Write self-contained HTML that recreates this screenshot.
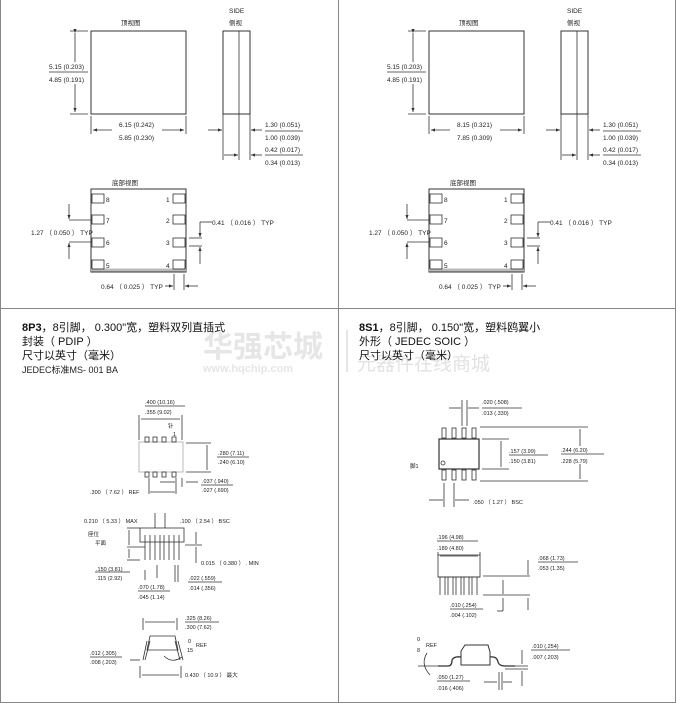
<!DOCTYPE html>
<html><head><meta charset="utf-8"><style>
html,body{margin:0;padding:0;background:#fff}
svg{display:block}
text{font-family:"Liberation Sans","Noto Sans CJK SC",sans-serif;fill:#222}
.t{font-size:6.5px}
.s{font-size:5.5px}
.h{font-size:11px;fill:#111}
</style></head><body>
<svg width="676" height="703" viewBox="0 0 676 703" xmlns="http://www.w3.org/2000/svg">
<defs>
<marker id="a" markerWidth="6" markerHeight="6" refX="5" refY="3" orient="auto"><path d="M0,1 L5,3 L0,5 z" fill="#333"/></marker>
<g id="top" stroke="#333" stroke-width="0.8" fill="none">
 <rect x="91" y="31" width="95" height="83" stroke-width="1"/>
 <rect x="223" y="31" width="27" height="83" stroke-width="1"/>
 <line x1="239" y1="31" x2="239" y2="114"/>
 <line x1="70" y1="31" x2="88" y2="31"/><line x1="70" y1="114" x2="88" y2="114"/>
 <line x1="75" y1="33" x2="75" y2="62" marker-start="url(#a)"/>
 <line x1="75" y1="84" x2="75" y2="112" marker-end="url(#a)"/>
 <line x1="49" y1="72" x2="88" y2="72"/>
 <line x1="91" y1="116" x2="91" y2="134"/><line x1="186" y1="116" x2="186" y2="134"/>
 <line x1="112" y1="130" x2="93" y2="130" marker-end="url(#a)"/>
 <line x1="162" y1="130" x2="184" y2="130" marker-end="url(#a)"/>
 <line x1="223" y1="114" x2="223" y2="160"/><line x1="239" y1="114" x2="239" y2="160"/><line x1="250" y1="114" x2="250" y2="160"/>
 <line x1="208" y1="130" x2="222" y2="130" marker-end="url(#a)"/>
 <line x1="262" y1="130" x2="251" y2="130" marker-end="url(#a)"/>
 <line x1="224" y1="155" x2="238" y2="155" marker-end="url(#a)"/>
 <line x1="262" y1="155" x2="251" y2="155" marker-end="url(#a)"/>
 <line x1="265" y1="131" x2="303" y2="131"/><line x1="265" y1="155" x2="303" y2="155"/>
 <rect x="91" y="189" width="95" height="83" stroke-width="1"/>
 <line x1="91" y1="270" x2="186" y2="270" stroke="#bbb" stroke-width="3"/>
 <rect x="92" y="194" width="12" height="9"/><rect x="92" y="215" width="12" height="9"/><rect x="92" y="238" width="12" height="9"/><rect x="92" y="260" width="12" height="9"/>
 <rect x="173" y="194" width="12" height="9"/><rect x="173" y="215" width="12" height="9"/><rect x="173" y="238" width="12" height="9"/><rect x="173" y="260" width="12" height="9"/>
 <line x1="69" y1="204" x2="69" y2="219" marker-end="url(#a)"/><line x1="69" y1="220" x2="91" y2="220"/>
 <line x1="69" y1="242" x2="91" y2="242"/><line x1="69" y1="259" x2="69" y2="243" marker-end="url(#a)"/>
 <line x1="189" y1="238" x2="202" y2="238"/><line x1="189" y1="246" x2="202" y2="246"/>
 <line x1="200" y1="222" x2="212" y2="222"/><line x1="200" y1="222" x2="200" y2="237" marker-end="url(#a)"/>
 <line x1="200" y1="264" x2="200" y2="247" marker-end="url(#a)"/>
 <line x1="174" y1="274" x2="174" y2="290"/><line x1="184" y1="274" x2="184" y2="290"/>
 <line x1="165" y1="286" x2="173" y2="286" marker-end="url(#a)"/><line x1="198" y1="286" x2="185" y2="286" marker-end="url(#a)"/>
</g>
</defs>
<g stroke="#888" stroke-width="1">
<line x1="0.5" y1="0" x2="0.5" y2="703"/><line x1="338.5" y1="0" x2="338.5" y2="703"/><line x1="675.5" y1="0" x2="675.5" y2="703"/>
<line x1="0" y1="308.5" x2="676" y2="308.5"/><line x1="0" y1="702.5" x2="676" y2="702.5"/>
</g>
<use href="#top"/>
<use href="#top" x="338"/>
<g class="t">
<text x="121" y="25">顶视图</text><text x="229" y="13">SIDE</text><text x="229" y="25">侧视</text>
<text x="49" y="69">5.15 (0.203)</text><text x="49" y="82">4.85 (0.191)</text>
<text x="119" y="127">6.15 (0.242)</text><text x="119" y="140">5.85 (0.230)</text>
<text x="265" y="127">1.30 (0.051)</text><text x="265" y="140">1.00 (0.039)</text>
<text x="265" y="152">0.42 (0.017)</text><text x="265" y="165">0.34 (0.013)</text>
<text x="112" y="185">底部视图</text>
<text x="106" y="202">8</text><text x="106" y="223">7</text><text x="106" y="245">6</text><text x="106" y="268">5</text>
<text x="166" y="202">1</text><text x="166" y="223">2</text><text x="166" y="245">3</text><text x="166" y="268">4</text>
<text x="31" y="235">1.27 （ 0.050 ） TYP</text><text x="212" y="225">0.41 （ 0.016 ） TYP</text>
<text x="101" y="289">0.64 （ 0.025 ） TYP</text>
</g>
<g class="t" transform="translate(338,0)">
<text x="121" y="25">顶视图</text><text x="229" y="13">SIDE</text><text x="229" y="25">侧视</text>
<text x="49" y="69">5.15 (0.203)</text><text x="49" y="82">4.85 (0.191)</text>
<text x="119" y="127">8.15 (0.321)</text><text x="119" y="140">7.85 (0.309)</text>
<text x="265" y="127">1.30 (0.051)</text><text x="265" y="140">1.00 (0.039)</text>
<text x="265" y="152">0.42 (0.017)</text><text x="265" y="165">0.34 (0.013)</text>
<text x="112" y="185">底部视图</text>
<text x="106" y="202">8</text><text x="106" y="223">7</text><text x="106" y="245">6</text><text x="106" y="268">5</text>
<text x="166" y="202">1</text><text x="166" y="223">2</text><text x="166" y="245">3</text><text x="166" y="268">4</text>
<text x="31" y="235">1.27 （ 0.050 ） TYP</text><text x="212" y="225">0.41 （ 0.016 ） TYP</text>
<text x="101" y="289">0.64 （ 0.025 ） TYP</text>
</g>
<text x="203" y="357" style="font-size:30px;font-weight:bold;fill:#e6e6e6">华强芯城</text>
<text x="203" y="372" style="font-size:11px;font-weight:bold;fill:#e6e6e6">www.hqchip.com</text>
<rect x="346" y="330" width="2" height="42" fill="#e6e6e6"/>
<text x="357" y="370" style="font-size:19px;fill:#e2e2e2">元器件在线商城</text>
<text class="h" x="22" y="331"><tspan font-weight="bold">8P3</tspan>，8引脚， 0.300"宽，塑料双列直插式</text>
<text class="h" x="22" y="345">封装（ PDIP ）</text>
<text class="h" x="22" y="359">尺寸以英寸（毫米）</text>
<text x="22" y="373" style="font-size:9px">JEDEC标准MS- 001 BA</text>
<text class="h" x="359" y="331"><tspan font-weight="bold">8S1</tspan>，8引脚， 0.150"宽，塑料鸥翼小</text>
<text class="h" x="359" y="345">外形（ JEDEC SOIC ）</text>
<text class="h" x="359" y="359">尺寸以英寸（毫米）</text>
<g stroke="#333" stroke-width="0.8" fill="none">
<rect x="139" y="442" width="44" height="30" stroke="#aaa"/>
<rect x="145" y="437" width="4" height="5"/><rect x="153" y="437" width="4" height="5"/><rect x="162" y="437" width="4" height="5"/><rect x="172" y="437" width="4" height="5"/>
<rect x="145" y="472" width="4" height="5"/><rect x="153" y="472" width="4" height="5"/><rect x="162" y="472" width="4" height="5"/><rect x="172" y="472" width="4" height="5"/>
<line x1="139" y1="415" x2="139" y2="440"/><line x1="182" y1="415" x2="182" y2="440"/>
<line x1="141" y1="419" x2="180" y2="419"/>
<line x1="145" y1="406" x2="185" y2="406"/>
<line x1="186" y1="443" x2="211" y2="443"/><line x1="186" y1="472" x2="211" y2="472"/>
<line x1="207" y1="445" x2="207" y2="470"/>
<line x1="217" y1="457" x2="249" y2="457"/>
<line x1="149" y1="478" x2="149" y2="494"/><line x1="176" y1="478" x2="176" y2="494"/>
<line x1="150" y1="492" x2="175" y2="492"/><line x1="160" y1="482" x2="175" y2="482"/>
<line x1="182" y1="478" x2="182" y2="487"/><line x1="186" y1="482" x2="198" y2="482"/>
<line x1="201" y1="485" x2="233" y2="485"/>
<rect x="140" y="528" width="44" height="14"/>
<line x1="145" y1="535" x2="145" y2="560"/><line x1="150" y1="535" x2="150" y2="560"/>
<line x1="155" y1="535" x2="155" y2="560"/><line x1="160" y1="535" x2="160" y2="560"/>
<line x1="164" y1="535" x2="164" y2="560"/><line x1="169" y1="535" x2="169" y2="560"/>
<line x1="174" y1="535" x2="174" y2="560"/><line x1="179" y1="535" x2="179" y2="560"/>
<line x1="155" y1="513" x2="155" y2="528"/><line x1="165" y1="513" x2="165" y2="528"/>
<line x1="127" y1="528" x2="140" y2="528"/><line x1="127" y1="547" x2="145" y2="547"/><line x1="127" y1="560" x2="140" y2="560"/>
<line x1="129" y1="530" x2="129" y2="545"/><line x1="129" y1="549" x2="129" y2="558"/>
<line x1="185" y1="545" x2="202" y2="545"/><line x1="196" y1="532" x2="196" y2="544"/><line x1="196" y1="547" x2="196" y2="563"/>
<line x1="95" y1="572" x2="130" y2="572"/>
<line x1="157" y1="565" x2="157" y2="578"/><line x1="145" y1="570" x2="145" y2="580"/>
<line x1="175" y1="565" x2="175" y2="582"/><line x1="178" y1="565" x2="178" y2="582"/>
<line x1="188" y1="582" x2="222" y2="582"/><line x1="138" y1="591" x2="170" y2="591"/>
<path d="M147,650 L150,636 L175,636 L178,650 Z"/>
<path d="M147,641 L143,660 M178,641 L183,660 M150,641 L145,660 M175,641 L180,660"/>
<line x1="143" y1="618" x2="143" y2="630"/><line x1="177" y1="618" x2="177" y2="630"/>
<line x1="145" y1="622" x2="175" y2="622"/>
<line x1="185" y1="622" x2="219" y2="622"/>
<line x1="90" y1="657" x2="122" y2="657"/><line x1="130" y1="660" x2="140" y2="660"/>
<line x1="140" y1="666" x2="140" y2="678"/><line x1="181" y1="666" x2="181" y2="678"/>
<line x1="142" y1="675" x2="179" y2="675"/>
<path d="M164,656 Q172,664 182,657"/>
<rect x="439" y="439" width="40" height="30" stroke-width="1.2"/>
<circle cx="443" cy="463" r="2"/>
<rect x="442" y="428" width="4" height="10"/><rect x="452" y="428" width="4" height="10"/><rect x="462" y="428" width="4" height="10"/><rect x="472" y="428" width="4" height="10"/>
<rect x="442" y="470" width="4" height="10"/><rect x="452" y="470" width="4" height="10"/><rect x="462" y="470" width="4" height="10"/><rect x="472" y="470" width="4" height="10"/>
<line x1="462" y1="400" x2="462" y2="426"/><line x1="467" y1="400" x2="467" y2="426"/>
<line x1="449" y1="408" x2="461" y2="408"/><line x1="479" y1="408" x2="468" y2="408"/>
<line x1="482" y1="408" x2="522" y2="408"/>
<line x1="480" y1="427" x2="588" y2="427"/><line x1="480" y1="481" x2="588" y2="481"/>
<line x1="482" y1="439" x2="509" y2="439"/><line x1="482" y1="469" x2="509" y2="469"/>
<line x1="501" y1="441" x2="501" y2="467"/><line x1="580" y1="429" x2="580" y2="446"/><line x1="580" y1="464" x2="580" y2="479"/>
<line x1="509" y1="455" x2="548" y2="455"/><line x1="561" y1="454" x2="604" y2="454"/>
<line x1="444" y1="483" x2="444" y2="507"/><line x1="454" y1="483" x2="454" y2="507"/>
<line x1="429" y1="500" x2="443" y2="500"/><line x1="469" y1="500" x2="455" y2="500"/>
<rect x="438" y="555" width="42" height="22"/>
<line x1="438" y1="577" x2="480" y2="577"/>
<path d="M440,577 v18 M445,577 v18 M448,577 v18 M453,577 v18 M456,577 v18 M461,577 v18 M464,577 v18 M469,577 v18 M472,577 v18 M477,577 v18"/>
<line x1="438" y1="552" x2="438" y2="556"/><line x1="480" y1="552" x2="480" y2="556"/>
<line x1="440" y1="556" x2="478" y2="556"/><line x1="437" y1="541" x2="478" y2="541"/>
<line x1="483" y1="576" x2="530" y2="576"/><line x1="483" y1="595" x2="530" y2="595"/>
<line x1="528" y1="560" x2="528" y2="575"/><line x1="528" y1="598" x2="528" y2="610"/>
<line x1="503" y1="580" x2="503" y2="594"/><line x1="503" y1="598" x2="503" y2="611"/><line x1="497" y1="611" x2="503" y2="611"/>
<line x1="538" y1="562" x2="578" y2="562"/><line x1="450" y1="609" x2="483" y2="609"/>
<path d="M461,651 L465,645 L488,645 L490,652 L490,665 L461,665 Z" stroke-width="1"/>
<path d="M438,666 L448,666 Q452,666 452,660 Q454,656 461,657 M490,657 Q497,656 498,662 Q499,666 505,666 L515,666" stroke-width="1.3"/>
<line x1="418" y1="666" x2="438" y2="666"/>
<path d="M427,653 Q420,664 430,675"/>
<line x1="505" y1="666" x2="528" y2="666"/><line x1="505" y1="669" x2="528" y2="669"/>
<line x1="522" y1="650" x2="522" y2="664"/><line x1="522" y1="671" x2="522" y2="686"/>
<line x1="531" y1="650" x2="570" y2="650"/>
<line x1="499" y1="672" x2="499" y2="690"/><line x1="502" y1="672" x2="502" y2="690"/>
<line x1="484" y1="682" x2="497" y2="682"/><line x1="512" y1="682" x2="503" y2="682"/>
<line x1="437" y1="681" x2="470" y2="681"/>
</g>
<g class="s">
<text x="145" y="404">.400 (10.16)</text><text x="145" y="414">.355 (9.02)</text>
<text x="168" y="428">针</text><text x="173" y="436">1</text>
<text x="218" y="455">.280 (7.11)</text><text x="218" y="464">.240 (6.10)</text>
<text x="202" y="483">.037 (.940)</text><text x="202" y="492">.027 (.690)</text>
<text x="90" y="494">.300 （ 7.62 ） REF</text>
<text x="84" y="523">0.210 （ 5.33 ） MAX</text><text x="180" y="523">.100 （ 2.54 ） BSC</text>
<text x="88" y="536">座位</text><text x="95" y="545">平面</text>
<text x="201" y="565">0.015 （ 0.380 ） .  MIN</text>
<text x="96" y="571">.150 (3.81)</text><text x="96" y="580">.115 (2.92)</text>
<text x="189" y="580">.022 (.559)</text><text x="189" y="590">.014 (.356)</text>
<text x="138" y="589">.070 (1.78)</text><text x="138" y="599">.045 (1.14)</text>
<text x="185" y="620">.325 (8.26)</text><text x="185" y="629">.300 (7.62)</text>
<text x="188" y="643">0</text><text x="196" y="647">REF</text><text x="187" y="652">15</text>
<text x="90" y="655">.012 (.305)</text><text x="90" y="664">.008 (.203)</text>
<text x="185" y="677">0.430 （ 10.9 ） 最大</text>
<text x="482" y="404">.020 (.508)</text><text x="482" y="415">.013 (.330)</text>
<text x="509" y="453">.157 (3.99)</text><text x="509" y="463">.150 (3.81)</text>
<text x="561" y="452">.244 (6.20)</text><text x="561" y="463">.228 (5.79)</text>
<text x="410" y="468">脚1</text>
<text x="473" y="504">.050 （ 1.27 ） BSC</text>
<text x="437" y="539">.196 (4.98)</text><text x="437" y="550">.189 (4.80)</text>
<text x="538" y="560">.068 (1.73)</text><text x="538" y="570">.053 (1.35)</text>
<text x="450" y="607">.010 (.254)</text><text x="450" y="617">.004 (.102)</text>
<text x="417" y="641">0</text><text x="426" y="647">REF</text><text x="417" y="652">8</text>
<text x="532" y="648">.010 (.254)</text><text x="532" y="659">.007 (.203)</text>
<text x="437" y="679">.050 (1.27)</text><text x="437" y="690">.016 (.406)</text>
</g>
</svg>
</body></html>
